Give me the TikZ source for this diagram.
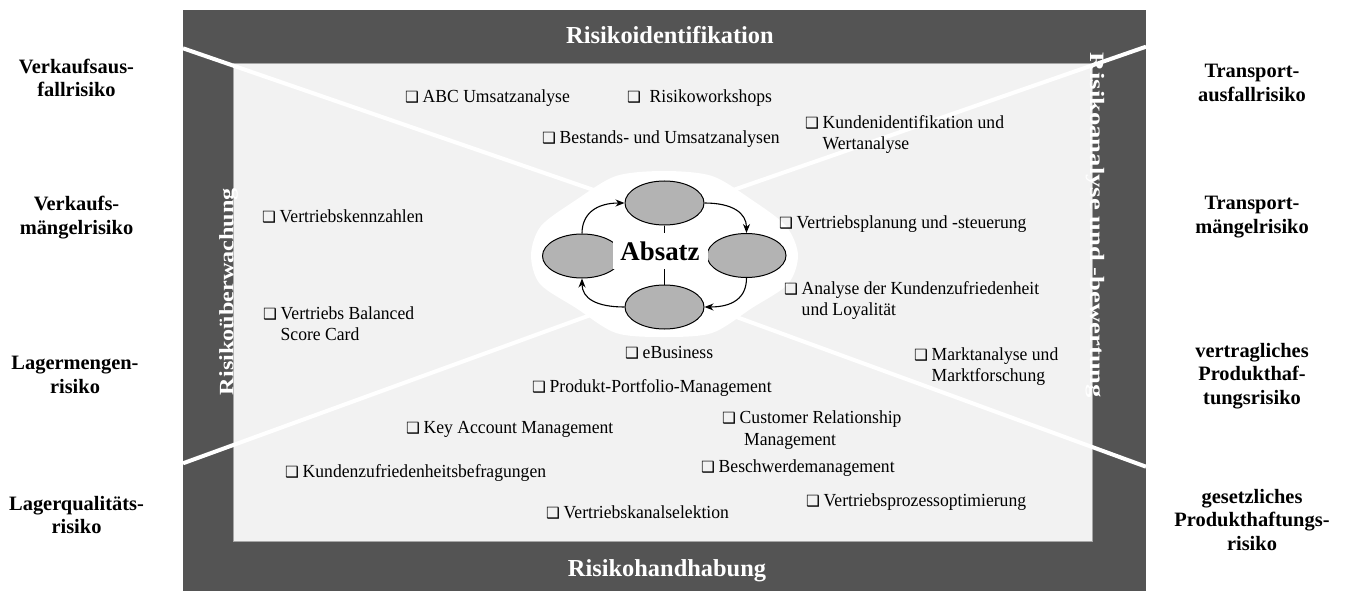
\documentclass[tikz,border=0pt]{standalone}
\usepackage{fontspec}
\usepackage{graphicx}
\setmainfont{Liberation Serif}
\newfontfamily\itemfont{Liberation Serif}[FakeStretch=0.955]
\newfontfamily\symfont{DejaVu Sans}
\usetikzlibrary{shapes.geometric,arrows.meta,calc}
\definecolor{bandgray}{RGB}{84,84,84}
\definecolor{fieldgray}{RGB}{242,242,242}
\definecolor{ellgray}{RGB}{179,179,179}
\newcommand{\bx}[1][17.5bp]{\makebox[#1][l]{\symfont\fontsize{15.5}{15.5}\selectfont ❑}}
\begin{document}
\begin{tikzpicture}[x=1bp,y=-1bp,
  item/.style={anchor=base west, inner sep=0, align=left, font=\itemfont\fontsize{18.5}{21.5}\selectfont},
  risk/.style={align=center, inner sep=0, font=\bfseries\fontsize{20.5}{23.5}\selectfont},
  title/.style={anchor=base, inner sep=0, text=white, font=\bfseries\fontsize{24.5}{24.5}\selectfont},
  side/.style={anchor=base, inner sep=0, text=white, font=\bfseries\fontsize{20.5}{20.5}\selectfont},
  cycell/.style={ellipse, draw=black, line width=1bp, fill=ellgray, minimum width=79bp, minimum height=44bp, inner sep=0},
  cyc/.style={line width=1.1bp, -{Stealth[length=9bp,width=7bp]}},
  diag/.style={white, line width=4bp}
]
\useasboundingbox (0,0) rectangle (1348,591);
\fill[white] (0,0) rectangle (1348,591);
% frame
\fill[bandgray] (183,10) rectangle (1146,591);
\filldraw[fill=fieldgray, draw=black!35, line width=0.8bp] (233,63.5) rectangle (1092,541);
% side titles
\node[side, rotate=90] (sideL) at (233.3,291.5) {\resizebox{207bp}{\height}{Risikoüberwachung}};
\node[side, rotate=-90] (sideR) at (1090,225.5) {\resizebox{345bp}{\height}{Risikoanalyse und -bewertung}};
% diagonals
\coordinate (cTL) at (183,48.3);
\coordinate (cTR) at (1146,46.7);
\coordinate (cBL) at (183,463.3);
\coordinate (cBR) at (1146,466.7);
\coordinate (eTL) at (640,206);
\coordinate (eTR) at (690,205);
\coordinate (eBL) at (640,297);
\coordinate (eBR) at (690,300);
\draw[diag] (cTL) -- (eTL);
\draw[diag] (cTR) -- (eTR);
\draw[diag] (cBL) -- (eBL);
\draw[diag] (cBR) -- (eBR);
% cloud
\fill[white] plot[smooth cycle] coordinates {(664,171) (712,176) (752,200) (786,226) (798,255) (788,284) (752,308) (712,333) (664,337) (616,333) (576,308) (540,284) (531,255) (541,226) (576,200) (616,176)};
% cycle
\node[cycell] (top) at (664.5,203) {};
\node[cycell] (left) at (582,256) {};
\node[cycell] (right) at (746.5,255.5) {};
\node[cycell] (bottom) at (664.5,307) {};
\draw[line width=1bp] (top.south) -- (bottom.north);
\draw[cyc] (top.east) .. controls ($(top.east)+(28,0)$) and ($(right.north)+(0,-20)$) .. (right.north);
\draw[cyc] (right.south) .. controls ($(right.south)+(0,20)$) and ($(bottom.east)+(28,0)$) .. (bottom.east);
\draw[cyc] (bottom.west) .. controls ($(bottom.west)+(-28,0)$) and ($(left.south)+(0,20)$) .. (left.south);
\draw[cyc] (left.north) .. controls ($(left.north)+(0,-20)$) and ($(top.west)+(-28,0)$) .. (top.west);
\node[fill=white, inner sep=0, minimum width=95bp, minimum height=36bp, font=\bfseries\fontsize{27}{27}\selectfont] (absatz) at (660,250.8) {Absatz};
% band titles
\node[title] (tTop) at (670,44) {Risikoidentifikation};
\node[title] (tBot) at (667,576.5) {Risikohandhabung};
% risk labels
\node[risk] (r1) at (76.5,77.8) {Verkaufsaus-\\fallrisiko};
\node[risk] (r2) at (76.5,217.7) {Verkaufs-\\mängelrisiko};
\node[risk] (r3) at (75,374.8) {Lagermengen-\\risiko};
\node[risk] (r4) at (76.5,515) {Lagerqualitäts-\\risiko};
\node[risk] (r5) at (1252,83) {Transport-\\ausfallrisiko};
\node[risk] (r6) at (1252,217) {Transport-\\mängelrisiko};
\node[risk] (r7) at (1252,376) {vertragliches\\Produkthaf-\\tungsrisiko};
\node[risk] (r8) at (1252,519.8) {gesetzliches\\Produkthaftungs-\\risiko};
% items
\node[item] (i1) at (405,103) {\bx ABC Umsatzanalyse};
\node[item] (i2) at (627,103) {\bx[22.5bp]Risikoworkshops};
\node[item] (i3) at (542,144) {\bx Bestands- und Umsatzanalysen};
\node[item] (i4) at (805,149.5) {\bx Kundenidentifikation und\\\hspace*{17.5bp}Wertanalyse};
\node[item] (i5) at (262,222) {\bx Vertriebskennzahlen};
\node[item] (i6) at (779,228) {\bx Vertriebsplanung und -steuerung};
\node[item] (i7) at (784,315.5) {\bx Analyse der Kundenzufriedenheit\\\hspace*{17.5bp}und Loyalität};
\node[item] (i8) at (263,340.5) {\bx Vertriebs Balanced\\\hspace*{17.5bp}Score Card};
\node[item] (i9) at (625,358) {\bx eBusiness};
\node[item] (i10) at (914,381.5) {\bx Marktanalyse und\\\hspace*{17.5bp}Marktforschung};
\node[item] (i11) at (532,392) {\bx Produkt-Portfolio-Management};
\node[item] (i12) at (722,445) {\bx Customer Relationship\\\hspace*{22bp}Management};
\node[item] (i13) at (406,433) {\bx Key Account Management};
\node[item] (i14) at (285,477) {\bx Kundenzufriedenheitsbefragungen};
\node[item] (i15) at (701,472) {\bx Beschwerdemanagement};
\node[item] (i16) at (806,506) {\bx Vertriebsprozessoptimierung};
\node[item] (i17) at (546,518) {\bx Vertriebskanalselektion};
\end{tikzpicture}
\end{document}
